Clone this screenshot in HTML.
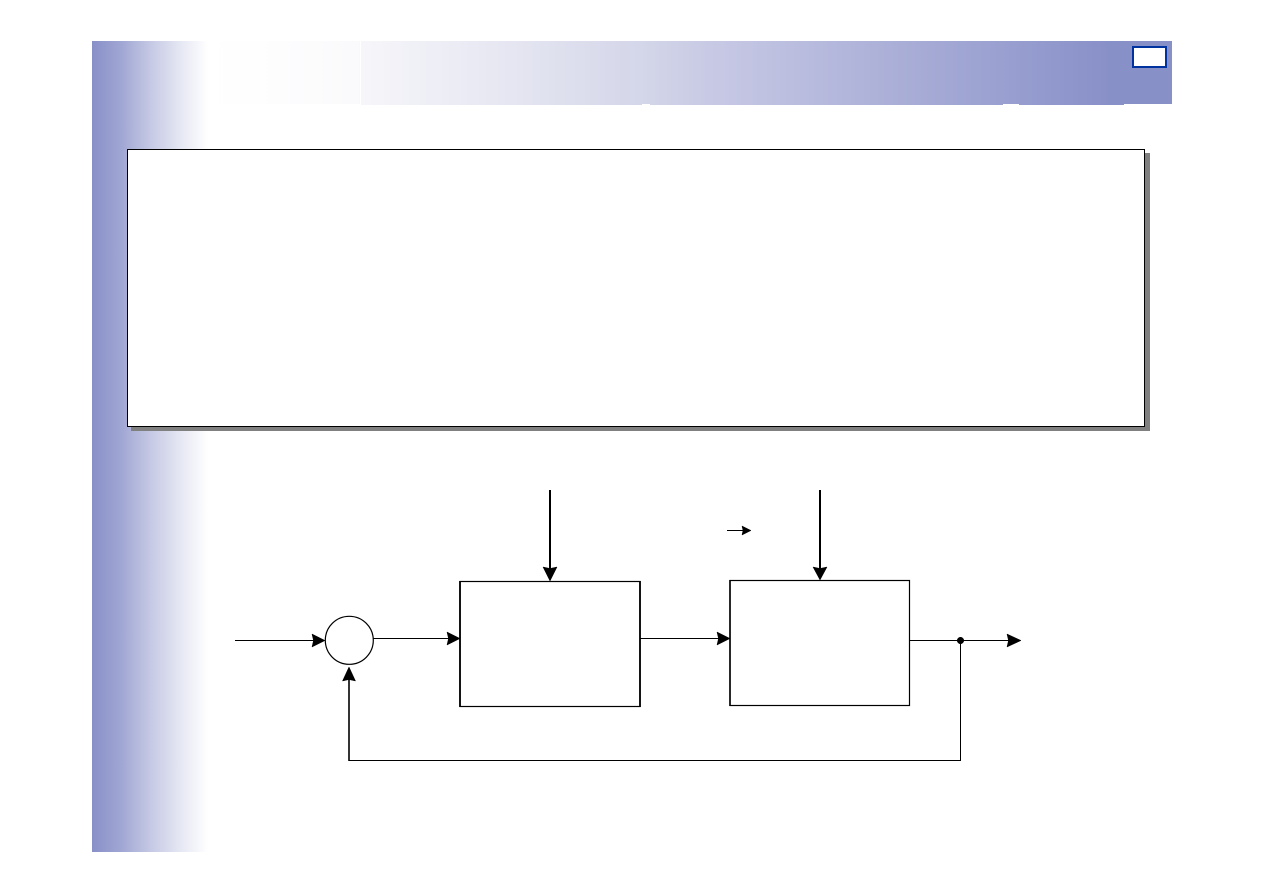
<!DOCTYPE html>
<html>
<head>
<meta charset="utf-8">
<title>Feedback control block diagram</title>
<style>
html,body{margin:0;padding:0;background:#fff;width:1263px;height:893px;overflow:hidden}
svg{display:block}
</style>
</head>
<body>
<svg width="1263" height="893" viewBox="0 0 1263 893" xmlns="http://www.w3.org/2000/svg">
<defs>
<linearGradient id="left" x1="0" x2="1" y1="0" y2="0">
<stop offset="0" stop-color="#8890c8"/>
<stop offset="0.25" stop-color="#a0a6d3"/>
<stop offset="0.5" stop-color="#c4c8e4"/>
<stop offset="0.75" stop-color="#e4e6f2"/>
<stop offset="1" stop-color="#ffffff"/>
</linearGradient>
<linearGradient id="top" gradientUnits="userSpaceOnUse" x1="208" x2="1110" y1="0" y2="0">
<stop offset="0" stop-color="#ffffff"/>
<stop offset="0.08" stop-color="#fdfdfe"/>
<stop offset="0.167" stop-color="#fafafc"/>
<stop offset="0.169" stop-color="#f6f6fa"/>
<stop offset="0.346" stop-color="#e4e5f1"/>
<stop offset="0.479" stop-color="#d4d6e9"/>
<stop offset="0.568" stop-color="#c6c8e4"/>
<stop offset="0.878" stop-color="#9aa0d0"/>
<stop offset="1" stop-color="#8890c8"/>
</linearGradient>
</defs>

<!-- background bands -->
<rect x="92" y="41" width="116" height="811" fill="url(#left)"/>
<path d="M208 41H1172V104H1124V105H1019V104H1003V105H650V104H642V105H360V104H208Z" fill="url(#top)"/>
<rect x="360" y="41" width="1" height="64" fill="#ffffff"/>

<!-- page marker -->
<rect x="1133" y="47" width="33" height="20" fill="#fff" stroke="#0033a0" stroke-width="2"/>

<!-- text panel -->
<rect x="131" y="153" width="1019" height="278" fill="#808080"/>
<rect x="127.5" y="149.5" width="1017" height="277" fill="#fff" stroke="#000" stroke-width="1"/>

<!-- blocks -->
<rect x="460" y="581.5" width="180" height="125" fill="#fff" stroke="#000" stroke-width="1.2"/>
<path d="M460 581V707M640 581V707" stroke="#000" stroke-width="1.8" fill="none"/>
<rect x="730" y="580.5" width="179.5" height="125" fill="#fff" stroke="#000" stroke-width="1.2"/>
<path d="M730 580V706" stroke="#000" stroke-width="1.6" fill="none"/>
<circle cx="349.3" cy="640.3" r="24" fill="#fff" stroke="#000" stroke-width="1.2"/>

<!-- connectors -->
<g fill="none" stroke="#000">
<path d="M235 640.5H314" stroke-width="1"/>
<path d="M373.5 638.5H449" stroke-width="1"/>
<path d="M640 638.5H719" stroke-width="1"/>
<path d="M909.5 640.5H1009" stroke-width="1"/>
<path d="M960.5 640.5V760.5H349" stroke-width="1"/>
<path d="M349 761V679" stroke-width="1.6"/>
<path d="M550 490V569" stroke-width="2"/>
<path d="M820 490V569" stroke-width="2"/>
<path d="M727 530.5H744" stroke-width="1"/>
</g>

<!-- arrowheads -->
<g fill="#000" stroke="#000" stroke-width="0.5" stroke-linejoin="round">
<path d="M325 640.5L312 634L313.5 640.5L312 647Z"/>
<path d="M460 638.5L447 632L448.5 638.5L447 645Z"/>
<path d="M730 638.5L717 632L718.5 638.5L717 645Z"/>
<path d="M1021 640.5L1007 634L1008.5 640.5L1007 647Z"/>
<path d="M349 667L342.5 681L349 679.5L355.5 681Z"/>
<path d="M550 581L543 567L550 568.5L557 567Z"/>
<path d="M820 580L813 567L820 568.5L827 567Z"/>
<path d="M751 530.5L742 526L743 530.5L742 535Z"/>
<circle cx="960.5" cy="640.5" r="3.3"/>
</g>
</svg>
</body>
</html>
